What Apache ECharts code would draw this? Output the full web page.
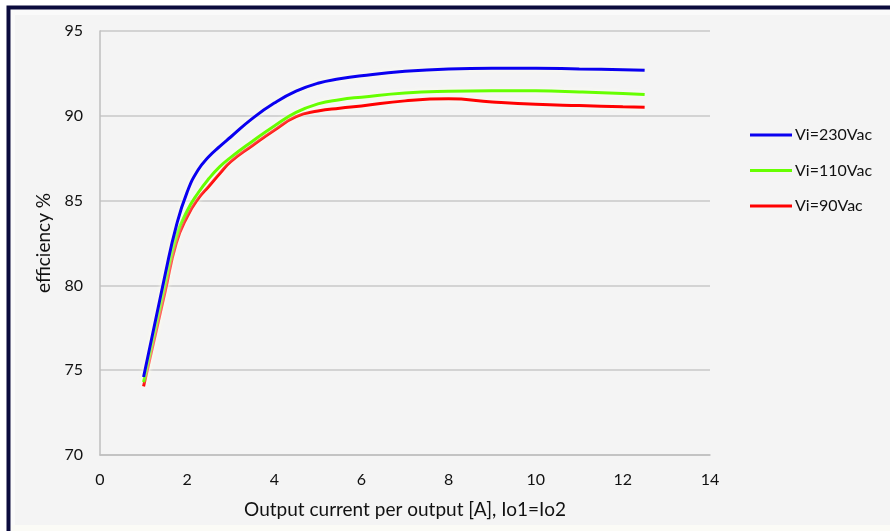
<!DOCTYPE html>
<html>
<head>
<meta charset="utf-8">
<script src="https://cdn.jsdelivr.net/npm/echarts@6/dist/echarts.min.js"></script>
<style>
html,body{margin:0;padding:0;background:#ffffff;}
#c{width:890px;height:531px;}
</style>
</head>
<body>
<div id="c"></div>
<script>
const seriesNames = ['Vi=230Vac', 'Vi=110Vac', 'Vi=90Vac'];
const xTicks = [0, 2, 4, 6, 8, 10, 12, 14];
const yTicks = [70, 75, 80, 85, 90, 95];

const current230 = [1.0, 1.5, 1.75, 2.0, 2.25, 2.5, 2.75, 3.0, 3.5, 4.0, 4.5, 5.0, 5.5, 6.0, 7.0, 8.0, 9.0, 10.0, 11.0, 12.0, 12.5];
const eff230     = [74.6, 80.7, 83.5, 85.5, 86.8, 87.6, 88.2, 88.75, 89.85, 90.75, 91.45, 91.92, 92.18, 92.36, 92.62, 92.76, 92.8, 92.8, 92.76, 92.72, 92.68];

const current110 = [1.0, 1.5, 1.75, 2.0, 2.25, 2.5, 2.75, 3.0, 3.5, 4.0, 4.5, 5.0, 5.5, 6.0, 7.0, 8.0, 9.0, 10.0, 11.0, 12.0, 12.5];
const eff110     = [74.3, 80.2, 82.9, 84.4, 85.45, 86.3, 87.0, 87.55, 88.5, 89.4, 90.2, 90.7, 90.95, 91.1, 91.35, 91.45, 91.48, 91.47, 91.41, 91.32, 91.25];

const current90 = [1.0, 1.5, 1.75, 2.0, 2.25, 2.5, 2.75, 3.0, 3.5, 4.0, 4.5, 5.0, 5.5, 6.0, 7.0, 8.0, 9.0, 10.0, 11.0, 12.0, 12.5];
const eff90     = [74.05, 79.7, 82.5, 84.05, 85.1, 85.85, 86.6, 87.3, 88.25, 89.15, 89.95, 90.28, 90.45, 90.58, 90.88, 91.0, 90.82, 90.68, 90.6, 90.53, 90.5];

const colors = ['#0a00f0', '#66ff00', '#ff0000'];

function pairs(xs, ys) { return xs.map((x, i) => [x, ys[i]]); }
const dataSets = [pairs(current230, eff230), pairs(current110, eff110), pairs(current90, eff90)];

const FONT = 'Lato, "Open Sans", sans-serif';
const chart = echarts.init(document.getElementById('c'), null, {renderer: 'canvas'});

chart.setOption({
  animation: false,
  backgroundColor: '#ffffff',
  graphic: [
    {type: 'rect', z: -10, shape: {x: 8.5, y: 7.5, width: 1000, height: 1000}, style: {fill: '#fafafa', stroke: '#0b0b3d', lineWidth: 4}},
    {type: 'rect', z: -9, shape: {x: 15, y: 15, width: 900, height: 510}, style: {fill: '#f4f4f4'}},
    {type: 'rect', z: -9, shape: {x: 11, y: 525, width: 900, height: 10}, style: {fill: '#fbfbf6'}}
  ],
  grid: {left: 100, right: 180, top: 31, bottom: 76, containLabel: false},
  legend: {
    orient: 'vertical',
    left: 745,
    top: 120,
    itemWidth: 42,
    itemHeight: 3,
    itemGap: 15.5,
    icon: 'rect',
    textStyle: {fontFamily: FONT, fontSize: 16, color: '#111', lineHeight: 20, padding: [0,0,0,-2]},
    data: seriesNames
  },
  xAxis: {
    type: 'value',
    min: 0, max: 14, interval: 2,
    name: 'Output current per output [A], Io1=Io2',
    nameLocation: 'middle',
    nameGap: 45,
    nameTextStyle: {fontFamily: FONT, fontSize: 19, color: '#111'},
    axisLine: {show: true, lineStyle: {color: '#bfbfbf', width: 1.5}},
    axisTick: {show: false},
    splitLine: {show: false},
    axisLabel: {fontFamily: FONT, fontSize: 16, color: '#111', margin: 17}
  },
  yAxis: {
    type: 'value',
    min: 70, max: 95, interval: 5,
    name: 'efficiency %',
    nameLocation: 'middle',
    nameGap: 44,
    nameRotate: 90,
    nameTextStyle: {fontFamily: FONT, fontSize: 19, color: '#111'},
    axisLine: {show: true, lineStyle: {color: '#bfbfbf', width: 1.5}},
    axisTick: {show: false},
    splitLine: {show: true, lineStyle: {color: '#c8c8c8', width: 1.5}},
    axisLabel: {fontFamily: FONT, fontSize: 16, color: '#111', margin: 17}
  },
  series: seriesNames.map((name, i) => ({
    name: name,
    type: 'line',
    data: dataSets[i],
    smooth: 0.5,
    symbol: 'none',
    color: colors[i],
    lineStyle: {width: 3, color: colors[i], shadowColor: 'rgba(255,255,240,0.95)', shadowBlur: 5},
    z: 3 - i
  }))
});
</script>
</body>
</html>
